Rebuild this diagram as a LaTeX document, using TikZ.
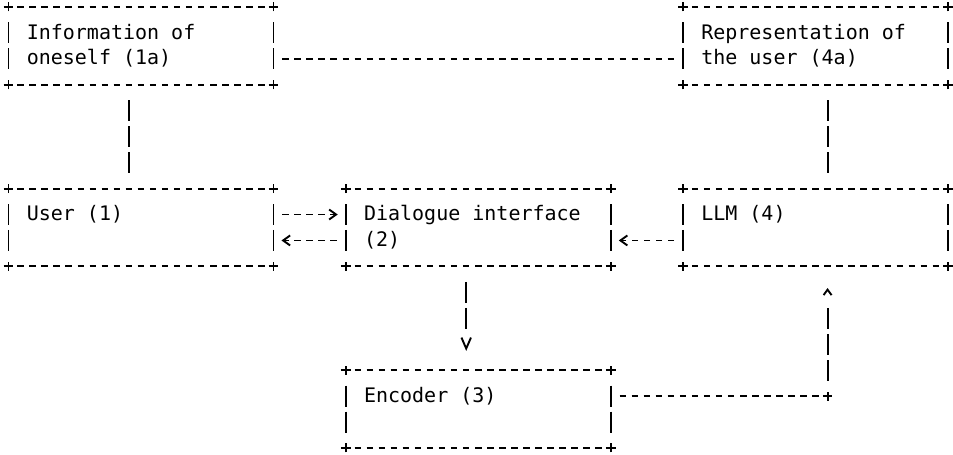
\documentclass[tikz,border=0pt]{standalone}
\usepackage{fontspec}
\newfontfamily\monofont{DejaVu Sans Mono}
\usetikzlibrary{arrows.meta, positioning}

\tikzset{
	box/.style = {rectangle, inner sep = 0pt, outer sep = 0pt, minimum width = 264.99pt, minimum height = 77.82pt},
	txt/.style = {anchor = base west, inner sep = 0pt, font = \monofont\fontsize{20}{24}\selectfont},
	hline/.style = {line width = 1.9pt, dash pattern = on 6.5pt off 5.545pt, dash phase = 9.27pt},
	vline/.style = {line width = 1.9pt, dash pattern = on 21pt off 4.94pt, dash phase = 23.47pt},
	hlink/.style = {hline, shorten < = 6.02pt, shorten > = 6.02pt},
	vlink/.style = {vline, shorten < = 12.97pt, shorten > = 12.97pt},
	rtip/.style = {-{Straight Barb[length = 7pt, width = 10pt]}, shorten > = 8pt},
	headonly/.style = {line width = 1.9pt, dash pattern = on 0pt off 600pt},
	dtip/.style = {headonly, -{Straight Barb[length = 11pt, width = 9.5pt]}, shorten > = 19.2pt},
	utip/.style = {headonly, -{Straight Barb[length = 5.5pt, width = 8pt]}, shorten > = 21.6pt},
	plus/.pic = {\draw[line width = 1.9pt] (-4.8pt, 0) -- (4.8pt, 0) (0, -4.5pt) -- (0, 4.5pt);}
}

\begin{document}
\begin{tikzpicture}
	\node[box] (1a) {};
	\node[box, right = 409.53pt of 1a] (4a) {};
	\node[box, below = 103.76pt of 1a] (1) {};
	\node[box, right = 72.27pt of 1] (2) {};
	\node[box, right = 72.27pt of 2] (4) {};
	\node[box, below = 103.76pt of 2] (3) {};
	\coordinate (bend) at ([shift = {(216.81pt, 12.97pt)}]3.east);

	\useasboundingbox ([shift = {(-8.5pt, 7pt)}]1a.north west) rectangle ++(953pt, -455pt);

	% box borders
	\foreach \n in {1a, 4a, 1, 2, 4, 3} {
		\draw[hline] ([xshift = 6.02pt]\n.north west) -- ([xshift = -6.02pt]\n.north east);
		\draw[hline] ([xshift = 6.02pt]\n.south west) -- ([xshift = -6.02pt]\n.south east);
		\draw[vline] ([yshift = -12.97pt]\n.north west) -- ([yshift = 12.97pt]\n.south west);
		\draw[vline] ([yshift = -12.97pt]\n.north east) -- ([yshift = 12.97pt]\n.south east);
		\foreach \c in {north west, north east, south west, south east}
			\path (\n.\c) pic {plus};
	}

	\node[txt] (1a-a) at ([shift = {(18.07pt, -32.04pt)}]1a.north west) {Information of};
	\node[txt] (1a-b) at ([shift = {(18.07pt, -57.98pt)}]1a.north west) {oneself (1a)};
	\node[txt] (4a-a) at ([shift = {(18.07pt, -32.04pt)}]4a.north west) {Representation of};
	\node[txt] (4a-b) at ([shift = {(18.07pt, -57.98pt)}]4a.north west) {the user (4a)};
	\node[txt] (1-a) at ([shift = {(18.07pt, -32.04pt)}]1.north west) {User (1)};
	\node[txt] (2-a) at ([shift = {(18.07pt, -32.04pt)}]2.north west) {Dialogue interface};
	\node[txt] (2-b) at ([shift = {(18.07pt, -57.98pt)}]2.north west) {(2)};
	\node[txt] (4-a) at ([shift = {(18.07pt, -32.04pt)}]4.north west) {LLM (4)};
	\node[txt] (3-a) at ([shift = {(18.07pt, -32.04pt)}]3.north west) {Encoder (3)};

	\draw[hlink]
		([yshift = -12.97pt]1a.east) edge ([yshift = -12.97pt]4a.west)
		([yshift = 12.97pt]1.east) edge[rtip] ([yshift = 12.97pt]2.west)
		([yshift = -12.97pt]2.west) edge[rtip] ([yshift = -12.97pt]1.east)
		([yshift = -12.97pt]4.west) edge[rtip] ([yshift = -12.97pt]2.east);
	\draw[vlink]
		([xshift = -12.045pt]1a.south) edge ([xshift = -12.045pt]1.north)
		([xshift = 12.045pt]4a.south) edge ([xshift = 12.045pt]4.north)
		([xshift = -12.045pt]2.south) edge[shorten > = 39pt] ([xshift = -12.045pt]3.north);
	\draw[dtip] ([xshift = -12.045pt]2.south) -- ([xshift = -12.045pt]3.north);
	\draw[hlink] ([yshift = 12.97pt]3.east) -- (bend);
	\draw[vlink, shorten > = 39pt] (bend) -- ([xshift = 12.045pt]4.south);
	\draw[utip] (bend) -- ([xshift = 12.045pt]4.south);
	\path (bend) pic {plus};
\end{tikzpicture}
\end{document}
